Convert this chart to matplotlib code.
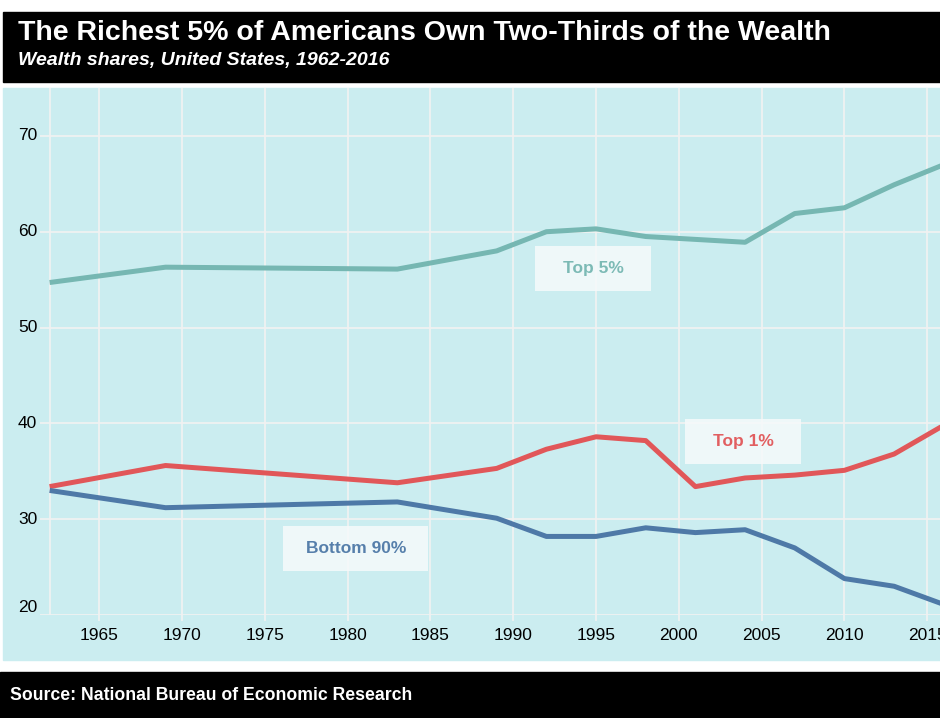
import matplotlib
matplotlib.use("Agg")
from matplotlib import pyplot as plt
from matplotlib.patches import Rectangle
from matplotlib.transforms import ScaledTranslation

# SCF survey years
years = [1962, 1969, 1983, 1989, 1992, 1995, 1998, 2001, 2004, 2007, 2010, 2013, 2016]
top5 = [54.7, 56.3, 56.1, 58.0, 60.0, 60.3, 59.5, 59.2, 58.9, 61.9, 62.5, 64.9, 67.0]
top1 = [33.4, 35.6, 33.8, 35.3, 37.3, 38.6, 38.2, 33.4, 34.3, 34.6, 35.1, 36.8, 39.8]
bottom90 = [33.0, 31.2, 31.8, 30.1, 28.2, 28.2, 29.1, 28.6, 28.9, 27.0, 23.8, 23.0, 21.1]

xticks = [1965, 1970, 1975, 1980, 1985, 1990, 1995, 2000, 2005, 2010, 2015]
yticks = [20, 30, 40, 50, 60, 70]

c_top5 = "#76b7b2"
c_top1 = "#e15759"
c_bot = "#4e79a7"
bg = "#cbedf0"
plt.rcParams["font.family"] = ["Liberation Sans", "DejaVu Sans"]

W, H = 940, 718
fig = plt.figure(figsize=(W / 100, H / 100), dpi=100)

def fx(px):
    return px / W

def fy(py):
    return 1 - py / H

# header / footer bands and panel background
fig.patches.append(Rectangle((fx(3), fy(82)), fx(937), 70 / H, transform=fig.transFigure,
                             color="black", zorder=-10))
fig.patches.append(Rectangle((fx(3), fy(660)), fx(937), 572 / H, transform=fig.transFigure,
                             color=bg, zorder=-10))
fig.patches.append(Rectangle((0, 0), 1, 46 / H, transform=fig.transFigure,
                             color="black", zorder=-10))

fig.text(fx(18), fy(33), "The Richest 5% of Americans Own Two-Thirds of the Wealth",
         color="white", fontsize=20.5, fontweight="bold", va="center")
fig.text(fx(18), fy(60), "Wealth shares, United States, 1962-2016",
         color="white", fontsize=14, fontweight="bold", style="italic", va="center")
fig.text(fx(10), fy(695), "Source: National Bureau of Economic Research",
         color="white", fontsize=12.7, fontweight="bold", va="center")

ax = fig.add_axes([fx(40), fy(615), fx(900), 527 / H])
ax.set_facecolor(bg)
ax.set_xlim(1961.42, 2015.77)
ax.set_ylim(20, 75)
for s in ax.spines.values():
    s.set_visible(False)

ax.set_xticks(xticks)
ax.set_yticks(yticks)
ax.set_yticklabels([])
ax.grid(True, color="#f2f2f2", linewidth=1.2, zorder=1)
ax.axvline(1962, color="#f2f2f2", linewidth=1.2, zorder=1)
ax.tick_params(axis="x", length=4.5, width=1.2, color="#f2f2f2", pad=5, labelsize=12.5)
ax.tick_params(axis="y", length=0)

# y labels drawn by hand so the bottom one can sit above its line like the original
for v in yticks:
    ax.text(-0.003, v, str(v), transform=ax.get_yaxis_transform(), ha="right",
            va="bottom" if v == 20 else "center", fontsize=12.5, color="black")

ax.plot(years, top5, color=c_top5, linewidth=3.6, zorder=3, solid_capstyle="butt")
ax.plot(years, top1, color=c_top1, linewidth=3.6, zorder=3, solid_capstyle="butt")
ax.plot(years, bottom90, color=c_bot, linewidth=3.6, zorder=3, solid_capstyle="butt")

# direct labels: text, centre (year, value), box width in px, colour
labels = [("Top 5%", 1994.83, 56.2, 116, c_top5),
          ("Top 1%", 2003.9, 38.07, 116, c_top1),
          ("Bottom 90%", 1980.5, 26.9, 145, c_bot)]
for txt, lx, ly, bw, col in labels:
    tr = fig.dpi_scale_trans + ScaledTranslation(lx, ly, ax.transData)
    ax.add_patch(Rectangle((-bw / 200, -0.225), bw / 100, 0.45, transform=tr,
                           facecolor="#f6fafb", alpha=0.85, edgecolor="none", zorder=4))
    ax.text(lx, ly, txt, color=col, fontsize=12.5, fontweight="bold", ha="center",
            va="center", zorder=5, alpha=0.95)

fig.savefig("out.png", dpi=100)
